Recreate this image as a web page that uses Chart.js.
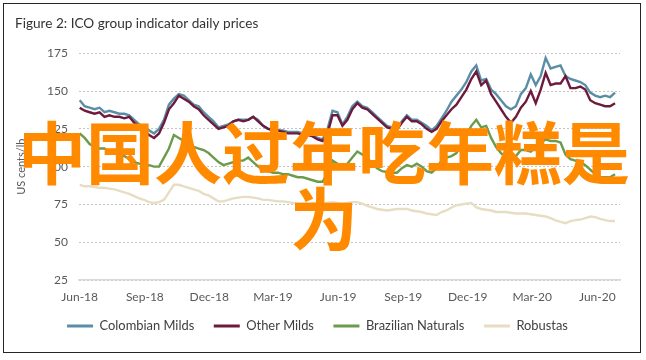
<!DOCTYPE html>
<html>
<head>
<meta charset="utf-8">
<script src="https://cdn.jsdelivr.net/npm/chart.js@4.4.1/dist/chart.umd.min.js"></script>
<style>
html,body{margin:0;padding:0;background:#fff;}
#wrap{position:relative;width:646px;height:360px;overflow:hidden;}
#c{position:absolute;left:0;top:0;}
#frame{position:absolute;left:3px;top:3px;width:638px;height:350px;border:1.5px solid #262626;box-sizing:border-box;pointer-events:none;}
#overlay{position:absolute;left:1px;top:117px;width:646px;text-align:center;font-family:"Noto Sans CJK SC";font-weight:700;font-size:68px;line-height:66px;color:#ff8a00;white-space:nowrap;pointer-events:none;}
</style>
</head>
<body>
<div id="wrap">
<canvas id="c" width="646" height="360"></canvas>
<div id="frame"></div>
<div id="overlay">中国人过年吃年糕是<br>为</div>
</div>
<script>
// ---- data (weekly samples) ----
const startDate = '2018-06-01';
const stepDays = 7;
const tickDates = ['2018-06-01','2018-09-01','2018-12-01','2019-03-01','2019-06-01','2019-09-01','2019-12-01','2020-03-01','2020-06-01'];
const tickLabels = ['Jun-18','Sep-18','Dec-18','Mar-19','Jun-19','Sep-19','Dec-19','Mar-20','Jun-20'];
const yTicks = [25,50,75,100,125,150,175];
const seriesNames = ['Colombian Milds','Other Milds','Brazilian Naturals','Robustas'];

const colombianMilds = [144,140,139,138,139,136,137,136,135,135,134,131,128,126,124,122,125,131,141,145,
 148,147,144,141,140,136,133,130,126,127,128,130,131,131,131,133,131,127,125,125,
 124,124,123,123,123,122,122,121,119,118,125,137,136,128,133,140,143,140,139,136,
 133,130,127,126,125.5,130,134,131,131,129,127,124,127,132,137,143,147,151,156,163,
 167,157,158,151,148,144,140,138,140,148,152,161,154,160,172,165,166,167,160,158,
 157,156,154,149,147,146,147,146,149];
const otherMilds = [139,137,136,135,136,133,134,133,133,132,133,129,127,124,121,119,122,129,138,142,
 147,145,143,140,138,134,131,128,125,126,127,130,131,130,131,133,130,127,125,124,
 124,123,122,122,122,121,121,120,118,117,122,134,134,127,131,138,142,139,138,135,
 132,129,126,125,124.5,129,133,130,130,128,125,123,125,130,134,138,141,146,151,158,
 163,154,157,148,143,138,133,129,133,139,143,150,142,151,162,154,155,155,160,152,
 152,153,151,144,142,141,140,140,142];
const brazilianNaturals = [122,119,115,113,112,112,110,109,108,107,105,103,102,101,101,100,100,106,112,121,
 119,117,115,113,112,111,109,106,103,101,102,103,104,104,106,103,100,98,97,96,
 96,95,95,94,93,93,92,91,90,90,96,104,102,99,102,106,110,108,106,102,
 99,97,96.5,96,96,99,101,100,102,100,97,96,99,104,106,107,109,115,121,127,
 131,126,127,119,113,109,106,104,107,111,111,110,113,116,118,117,117,116,108,105,
 104,103,101,98,95,93,93,93,95];
const robustas = [88,87,87,86.5,86,86,85.5,85,84,83,82,80.5,79,78,76.5,76,76.5,78,83,88,
 88,87,86,85,84,82,81,79,77,77,78,79,79.5,80,80,79.5,79,78,78,77.5,
 77,77,76.5,76,75.5,75.5,75.5,76,76,75.5,76,76.5,76,75.5,76,76.5,76.5,75.5,74,73,
 72,71.5,71,71.5,72,72,72,71,70.5,70,69,68.5,68,70,71,73,74.5,75,75.5,76,
 73,72,71.5,71,70,70,70,69.5,69,69,69,68.5,68,67.5,67,66,64.5,63.5,62.6,64,
 64.6,65,66,67,66.6,65.5,64.6,64,64];

// ---- build ----
const DAY = 86400000;
const t0 = Date.parse(startDate);
const dayOf = d => Math.round((Date.parse(d) - t0) / DAY);
const tickDays = tickDates.map(dayOf);
const toPts = arr => arr.map((v, i) => ({x: i * stepDays, y: v}));

const colors = ['#5a8ea6', '#6e1a3c', '#6b9b4b', '#e7ddc3'];
const allSeries = [colombianMilds, otherMilds, brazilianNaturals, robustas];
const drawOrder = [1, 0, 2, 3];

Chart.defaults.font.family = 'Lato';
Chart.defaults.color = '#595959';

new Chart(document.getElementById('c'), {
  type: 'line',
  data: {
    datasets: allSeries.map((arr, i) => ({
      label: seriesNames[i],
      data: toPts(arr),
      borderColor: colors[i],
      backgroundColor: colors[i],
      borderWidth: 2.4,
      pointRadius: 0,
      tension: 0,
      order: drawOrder[i]
    }))
  },
  options: {
    responsive: false,
    devicePixelRatio: 1,
    animation: false,
    layout: {padding: {left: 15, right: 26, top: 12, bottom: 17.6}},
    plugins: {
      title: {
        display: true,
        text: 'Figure 2: ICO group indicator daily prices',
        align: 'start',
        color: '#333333',
        font: {size: 13.6, weight: 'normal'},
        padding: {top: 3, bottom: 22}
      },
      legend: {
        position: 'bottom',
        labels: {
          boxWidth: 26,
          boxHeight: 3,
          padding: 19.5,
          color: '#404040',
          font: {size: 12.9},
          generateLabels: chart => chart.data.datasets.map((ds, i) => ({
            text: ds.label, fillStyle: ds.borderColor, strokeStyle: ds.borderColor,
            lineWidth: 0, hidden: false, datasetIndex: i, fontColor: '#404040'
          }))
        }
      },
      tooltip: {enabled: false}
    },
    scales: {
      x: {
        type: 'linear',
        min: -1,
        max: 763,
        afterBuildTicks: s => { s.ticks = tickDays.map(v => ({value: v})); },
        afterFit: s => { s.height = 20; },
        ticks: {
          autoSkip: false,
          maxRotation: 0,
          mirror: true,
          padding: -24.2,
          font: {size: 12},
          callback: v => { const k = tickDays.indexOf(v); return k >= 0 ? tickLabels[k] : ''; }
        },
        grid: {display: false, drawTicks: false},
        border: {display: true, color: '#d9d9d9', width: 1.5}
      },
      y: {
        min: 25,
        max: 175,
        afterBuildTicks: s => { s.ticks = yTicks.map(v => ({value: v})); },
        afterFit: s => { s.width = 64; },
        ticks: {padding: 11, font: {size: 12}},
        grid: {color: '#c4c4c4', lineWidth: 1, drawTicks: false},
        border: {display: false, dash: [2, 2]},
        title: {display: true, text: 'US cents/lb', font: {size: 11}, color: '#595959', padding: {top: 0, bottom: 6}}
      }
    }
  }
});
</script>
</body>
</html>
